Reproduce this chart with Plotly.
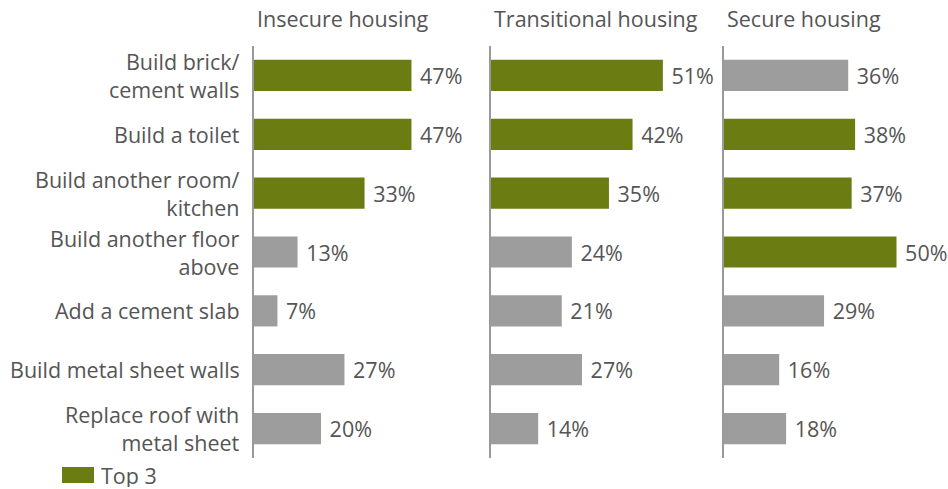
import plotly.graph_objects as go

categories = [
    "Build brick/<br>cement walls",
    "Build a toilet",
    "Build another room/<br>kitchen",
    "Build another floor<br>above",
    "Add a cement slab",
    "Build metal sheet walls",
    "Replace roof with<br>metal sheet",
]
panels = ["Insecure housing", "Transitional housing", "Secure housing"]
insecure = [47, 47, 33, 13, 7, 27, 20]
transitional = [51, 42, 35, 24, 21, 27, 14]
secure = [36, 38, 37, 50, 29, 16, 18]
insecure_top3 = [1, 1, 1, 0, 0, 0, 0]
transitional_top3 = [1, 1, 1, 0, 0, 0, 0]
secure_top3 = [0, 1, 1, 1, 0, 0, 0]
legend_label = "Top 3"

GREEN = "#6b7c13"
GRAY = "#9d9d9e"
TEXT = "#555555"
FONT = "Open Sans"
FS = 21.5

W, H = 948, 489
px_domains = [(254, 474), (491, 707), (724, 940)]
px_scale = [3.35, 3.37, 3.45]
y_top, y_bot = 46, 458

fig = go.Figure()
series = [insecure, transitional, secure]
tops = [insecure_top3, transitional_top3, secure_top3]

for i, (vals, top) in enumerate(zip(series, tops)):
    xa = "x" if i == 0 else f"x{i+1}"
    ya = "y" if i == 0 else f"y{i+1}"
    fig.add_trace(go.Bar(
        x=vals, y=categories, orientation="h",
        marker=dict(color=[GREEN if t else GRAY for t in top], line=dict(width=0)),
        width=0.53,
        texttemplate="\u00a0%{x}%", textposition="outside",
        textfont=dict(family=FONT, size=FS, color=TEXT),
        cliponaxis=False, showlegend=False, hoverinfo="skip",
        xaxis=xa, yaxis=ya,
    ))

layout = dict(
    width=W, height=H,
    margin=dict(l=0, r=0, t=0, b=0),
    paper_bgcolor="white", plot_bgcolor="white",
    font=dict(family=FONT, size=FS, color=TEXT),
    showlegend=False,
)
ydom = [1 - y_bot / H, 1 - y_top / H]
for i in range(3):
    x0, x1 = px_domains[i]
    rng = (x1 - x0) / px_scale[i]
    key = "" if i == 0 else str(i + 1)
    layout["xaxis" + key] = dict(
        domain=[x0 / W, x1 / W], range=[0, rng],
        showgrid=False, zeroline=False, showticklabels=False, showline=False,
        anchor="y" + key,
    )
    layout["yaxis" + key] = dict(
        domain=ydom, anchor="x" + key,
        categoryorder="array", categoryarray=categories[::-1],
        autorange=False, range=[-0.5, len(categories) - 0.5],
        showgrid=False, zeroline=False,
        showline=True, linecolor="#9a9a9a", linewidth=1.5,
        showticklabels=False,
    )
fig.update_layout(**layout)

# category labels
for cat in categories:
    fig.add_annotation(
        text=cat, xref="paper", yref="y", x=242 / W, y=cat,
        xanchor="right", yanchor="middle", align="right", showarrow=False,
        font=dict(family=FONT, size=FS, color=TEXT),
    )

for i, name in enumerate(panels):
    x0, _ = px_domains[i]
    fig.add_annotation(
        text=name, xref="paper", yref="paper",
        x=(x0 + 1) / W, y=1 - 19 / H, xanchor="left", yanchor="middle",
        showarrow=False, font=dict(family=FONT, size=FS, color=TEXT),
    )

# legend
fig.add_shape(type="rect", xref="paper", yref="paper",
              x0=62 / W, x1=94 / W, y0=1 - 483 / H, y1=1 - 467 / H,
              fillcolor=GREEN, line=dict(width=0))
fig.add_annotation(text=legend_label, xref="paper", yref="paper",
                   x=99 / W, y=1 - 475 / H, xanchor="left", yanchor="middle",
                   height=24, showarrow=False,
                   font=dict(family=FONT, size=FS, color=TEXT))

fig.write_html("out.html", config={"displayModeBar": False},
               post_script="document.body.style.margin='0';document.body.style.overflow='hidden';")
